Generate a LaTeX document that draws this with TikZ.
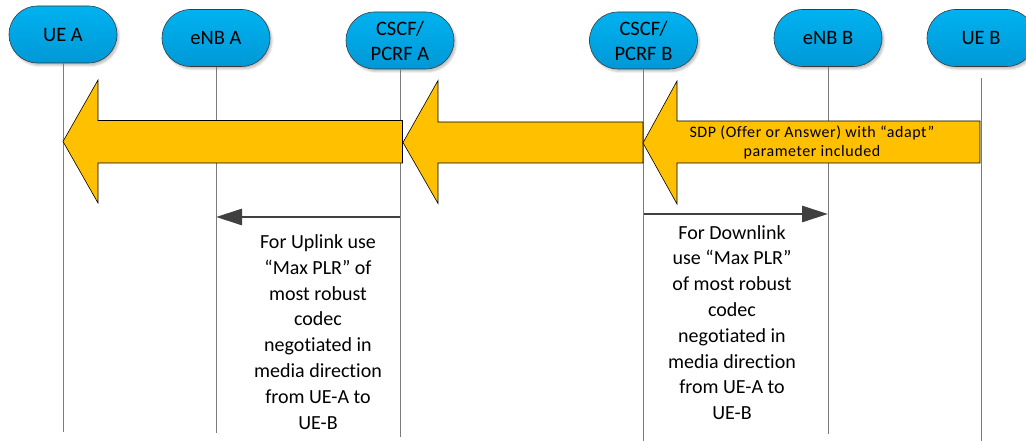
\documentclass[tikz,border=0pt]{standalone}
\usepackage{fontspec}
\setmainfont{Carlito}[Ligatures={NoCommon}]
\usetikzlibrary{shapes.misc,arrows.meta,shadows.blur}
\definecolor{enttop}{HTML}{00B2F0}
\definecolor{entbot}{HTML}{0098D6}
\definecolor{entline}{HTML}{3A3A3A}
\definecolor{lifegray}{HTML}{7A7A7A}
\definecolor{msggray}{HTML}{404040}
\definecolor{sdpyellow}{HTML}{FFC000}
\tikzset{
  entity/.style={rounded rectangle, minimum width=108pt, minimum height=57pt,
    inner sep=0pt, draw=entline, line width=0.6pt, top color=enttop, bottom color=entbot,
    align=center, font=\fontsize{20.5}{25}\selectfont,
    blur shadow={shadow xshift=2pt, shadow yshift=-2.5pt, shadow blur radius=2pt, shadow opacity=25}},
  life/.style={draw=lifegray, line width=0.9pt},
  bigarrow/.style={fill=sdpyellow, draw=black, line width=0.6pt, line join=miter},
  msg/.style={draw=msggray, line width=2.8pt, -{Triangle[length=26pt,width=16pt]}},
  note/.style={align=center, inner sep=0pt, font=\fontsize{20}{25.8}\selectfont},
  sdptext/.style={align=center, inner sep=0pt,
    font=\fontsize{16}{19}\selectfont\addfontfeatures{LetterSpace=3.5}}
}
\begin{document}
\begin{tikzpicture}[x=1pt,y=-1pt]
\useasboundingbox (0,0) rectangle (1026,441);
\clip (0,0) rectangle (1026,441);

% entities
\node[entity] (ueA)   at (63,34.5)  {UE A};
\node[entity] (enbA)  at (216,38)   {eNB A};
\node[entity] (cscfA) at (400,40.5) {CSCF/\\PCRF A};
\node[entity] (cscfB) at (643.5,40.5) {CSCF/\\PCRF B};
\node[entity] (enbB)  at (828,38)   {eNB B};
\node[entity] (ueB)   at (981,38)   {UE B};

% lifeline ends
\coordinate (ueAend)   at (63,432);
\coordinate (enbAend)  at (216,433);
\coordinate (cscfAend) at (400,437);
\coordinate (cscfBend) at (643.5,441);
\coordinate (enbBend)  at (828,434);
\coordinate (ueBend)   at (981,441);

\draw[life] (ueA.south) -- (ueAend);
\draw[life] (enbA.south) -- (enbAend);
\draw[life] (cscfA.south) -- (cscfAend);
\draw[life] (cscfB.south) -- (cscfBend);
\draw[life] (enbB.south) -- (enbBend);
\draw[life, shorten <=11pt] (ueB.south) -- (ueBend);

% SDP signalling arrows
\draw[bigarrow] (63,141.5) -- (98,80) -- (98,120.5) -- (402.5,120.5) -- (402.5,163)
  -- (98,163) -- (98,203) -- cycle;
\draw[bigarrow] (403,142.5) -- (438,80.5) -- (438,122) -- (643,122) -- (643,163)
  -- (438,163) -- (438,203.5) -- cycle;
\draw[bigarrow] (643,143) -- (677,81) -- (677,121) -- (980,121) -- (980,163)
  -- (677,163) -- (677,204) -- cycle;
\node[sdptext] (sdp) at (812,142.5) {SDP (Offer or Answer) with “adapt”\\parameter included};

% PLR indications towards the eNBs
\coordinate (ulFrom) at (400,217);
\coordinate (ulTo)   at (216,217);
\coordinate (dlFrom) at (643.5,214);
\coordinate (dlTo)   at (828,214);
\draw[msg] (ulFrom) -- (ulTo);
\draw[msg] (dlFrom) -- (dlTo);

\node[note] (ulNote) at (318,332) {For Uplink use\\“Max PLR” of\\most robust\\codec\\negotiated in\\media direction\\from UE-A to\\UE-B};
\node[note] (dlNote) at (732,322.5) {For Downlink\\use “Max PLR”\\of most robust\\codec\\negotiated in\\media direction\\from UE-A to\\UE-B};
\end{tikzpicture}
\end{document}
